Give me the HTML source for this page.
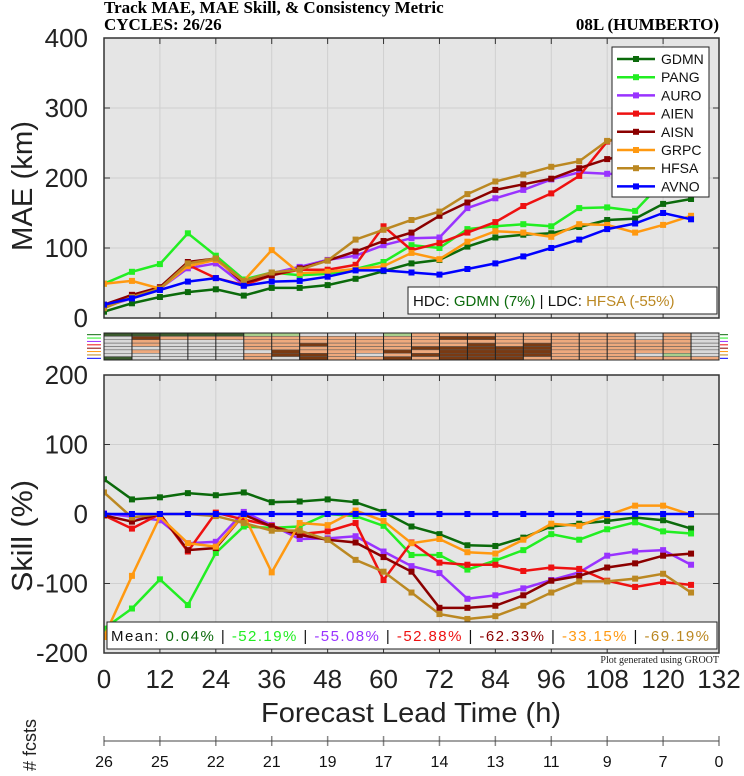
<!DOCTYPE html>
<html><head><meta charset="utf-8"><style>
html,body{margin:0;padding:0;background:#fff;}
svg{display:block;font-family:"Liberation Sans",sans-serif;}
</style></head><body>
<svg id="chart" width="744" height="776" viewBox="0 0 744 776" xmlns="http://www.w3.org/2000/svg">
<text x="104" y="13" font-family="Liberation Serif" font-weight="bold" font-size="17">Track MAE, MAE Skill, &amp; Consistency Metric</text>
<text x="104" y="30" font-family="Liberation Serif" font-weight="bold" font-size="17">CYCLES: 26/26</text>
<text x="719" y="30" text-anchor="end" font-family="Liberation Serif" font-weight="bold" font-size="17">08L (HUMBERTO)</text>
<g id="topG"></g><g id="stripG"></g><g id="botG"></g><g id="axesG"></g>
</svg>
<script>
const hours=[0,6,12,18,24,30,36,42,48,54,60,66,72,78,84,90,96,102,108,114,120,126];
const models=['GDMN','PANG','AURO','AIEN','AISN','GRPC','HFSA','AVNO'];
const colors=['#0b6a0b','#22ee22','#9933ff','#ee1111','#8b0000','#ff9911','#bb8822','#0000ff'];
const maeGDMN=[9,21,30,37,41,32,43,43,47,56,67,78,83,102,115,119,121,130,140,142,163,170];
const maePANG=[49,66,77,121,89,55,65,61,63,70,80,104,100,127,131,134,131,157,158,153,195,215];
const maeAURO=[16,28,42,71,78,47,64,73,83,89,104,114,115,157,171,183,198,208,206,205,200,195];
const maeAIEN=[17,33,42,76,57,47,61,69,69,76,131,97,107,122,137,160,178,203,252,265,270,275];
const maeAISN=[19,33,44,80,85,50,61,71,82,95,110,122,146,165,183,191,199,214,227,235,240,245];
const maeGRPC=[49,53,42,74,83,53,97,64,66,70,74,93,84,109,124,122,116,134,133,122,133,146];
const maeHFSA=[14,30,42,78,85,53,65,69,82,112,126,140,152,177,195,205,216,224,253,260,265,270];
const maeAVNO=[19,28,40,52,57,46,52,53,59,68,68,65,62,70,78,88,100,112,127,135,150,141];
const skGDMN=[50,21,24,30,27,31,17,18,21,17,3,-18,-29,-45,-46,-34,-18,-14,-10,-5,-9,-21];
const skPANG=[-165,-136,-94,-131,-56,-18,-20,-18,0,-3,-17,-59,-59,-80,-67,-52,-29,-37,-22,-12,-25,-28];
const skAURO=[1,-4,-9,-42,-40,3,-16,-36,-35,-32,-54,-75,-85,-122,-117,-107,-95,-84,-60,-54,-52,-73];
const skAIEN=[-2,-21,0,-54,2,-8,-17,-29,-25,-13,-95,-41,-70,-73,-73,-82,-77,-79,-96,-105,-98,-102];
const skAISN=[-2,-11,0,-52,-49,-1,-18,-30,-37,-41,-62,-83,-135,-135,-132,-117,-96,-89,-77,-71,-60,-57];
const skGRPC=[-177,-89,-4,-42,-47,-1,-84,-13,-16,5,-10,-42,-36,-55,-57,-37,-14,-17,-2,12,12,-1];
const skHFSA=[31,-5,0,0,-3,-13,-24,-24,-37,-66,-83,-113,-144,-151,-147,-132,-113,-97,-97,-93,-86,-113];
const skAVNO=[0,0,0,0,0,0,0,0,0,0,0,0,0,0,0,0,0,0,0,0,0,0];
const meanLabels=['0.04%','-52.19%','-55.08%','-52.88%','-62.33%','-33.15%','-69.19%'];
const xTicks=[0,12,24,36,48,60,72,84,96,108,120,132];
const fcstCounts=['26','25','22','21','19','17','14','13','11','9','7','0'];
const maeTicks=[0,100,200,300,400];
const skillTicks=[-200,-100,0,100,200];
const stripRows=['GGGGGggwwwgoooooooowow','wboooooooooobbooooowow','wowwwoooooooooooooooow','wowwwoobooooobobooooow','wwwwwoooooobbbbbooooow','wowwwwbooobobbbbooooow','wwwwwobbowobbbbbooowgw','Gwwwwowboobobbbooooooow'];
const maeSeries=[maeGDMN,maePANG,maeAURO,maeAIEN,maeAISN,maeGRPC,maeHFSA,maeAVNO];
const skSeries=[skGDMN,skPANG,skAURO,skAIEN,skAISN,skGRPC,skHFSA,skAVNO];

const NS='http://www.w3.org/2000/svg';
const X0=104,X1=719;
const xs=t=>X0+t*(X1-X0)/132;
const yTop=v=>318-v*(318-38)/400;
const yBot=v=>514-v*(653-375)/400;
function mk(tag,attrs,parent){const e=document.createElementNS(NS,tag);for(const k in attrs)e.setAttribute(k,attrs[k]);parent.appendChild(e);return e;}

function panel(g,y0,y1,yf,ticks,name){
  const bg=mk('rect',{x:X0,y:y0,width:X1-X0,height:y1-y0,fill:'#e5e5e5'},g);
  
  
  xTicks.forEach(t=>{
    const l=mk('line',{x1:xs(t),x2:xs(t),y1:y0,y2:y1,stroke:'#d0d0d0','stroke-width':1},g);
    
    
    mk('line',{x1:xs(t),x2:xs(t),y1:y0,y2:y0+6,stroke:'#333'},g);
    mk('line',{x1:xs(t),x2:xs(t),y1:y1,y2:y1-6,stroke:'#333'},g);
  });
  ticks.forEach(v=>{
    const l=mk('line',{x1:X0,x2:X1,y1:yf(v),y2:yf(v),stroke:'#d0d0d0'},g);
    
    
    mk('line',{x1:X1,x2:X1-6,y1:yf(v),y2:yf(v),stroke:'#333'},g);
    mk('line',{x1:X0,x2:X0+6,y1:yf(v),y2:yf(v),stroke:'#333'},g);
    const tx=mk('text',{x:88,y:yf(v)+9,'text-anchor':'end','font-size':26,fill:'#222'},g);
    tx.textContent=v;
    
    
  });
}
function series(g,data,yf,color,name,clip){
  const pts=data.map((v,i)=>xs(hours[i])+','+yf(v)).join(' ');
  const pl=mk('polyline',{points:pts,fill:'none',stroke:color,'stroke-width':2.5,'clip-path':clip},g);
  
  
  data.forEach((v,i)=>{
    const r=mk('rect',{x:xs(hours[i])-3,y:yf(v)-3,width:6,height:6,fill:color,'clip-path':clip},g);
    
    
  });
}
const topG=document.getElementById('topG'),botG=document.getElementById('botG'),stripG=document.getElementById('stripG');
const svgRoot=document.getElementById('chart');
const defs=mk('defs',{},svgRoot);
const c1=mk('clipPath',{id:'c1'},defs);mk('rect',{x:X0,y:38,width:X1-X0,height:280},c1);
const c2=mk('clipPath',{id:'c2'},defs);mk('rect',{x:X0,y:375,width:X1-X0,height:278},c2);
panel(topG,38,318,yTop,maeTicks,'mae');
panel(botG,375,653,yBot,skillTicks,'skill');
mk('line',{x1:X0,x2:X1,y1:yBot(0),y2:yBot(0),stroke:'#888','stroke-width':2},botG);
maeSeries.forEach((d,i)=>series(topG,d,yTop,colors[i],'mae-'+models[i].toLowerCase(),'url(#c1)'));
skSeries.forEach((d,i)=>series(botG,d,yBot,colors[i],'skill-'+models[i].toLowerCase(),'url(#c2)'));
[topG,botG].forEach((g,k)=>{const r=mk('rect',{x:X0,y:k?375:38,width:X1-X0,height:k?278:280,fill:'none',stroke:'#333','stroke-width':1.5},g);

});

// legend
const lg=mk('g',{},topG);


mk('rect',{x:612,y:47,width:97,height:150,fill:'#fff',stroke:'#222'},lg);
models.forEach((m,i)=>{
  const y=59+i*18.2;
  const e=mk('g',{},lg);
  
  
  mk('line',{x1:617,x2:655,y1:y,y2:y,stroke:colors[i],'stroke-width':2.5},e);
  mk('rect',{x:633,y:y-3,width:6,height:6,fill:colors[i]},e);
  const t=mk('text',{x:661,y:y+5,'font-size':14,fill:'#111'},e);t.textContent=m;
});
// HDC box
const hb=mk('g',{},topG);


mk('rect',{x:408,y:287,width:309,height:27,fill:'#fff',stroke:'#222'},hb);
const ht=mk('text',{x:413,y:306,'font-size':15,fill:'#111'},hb);
ht.setAttribute('xml:space','preserve');
ht.innerHTML='HDC:  <tspan fill="#0b6a0b">GDMN (7%)</tspan>  | LDC:  <tspan fill="#bb8822">HFSA (-55%)</tspan>';
// mean box
const mb=mk('g',{},botG);


mk('rect',{x:107,y:622,width:610,height:27,fill:'#fff',stroke:'#222'},mb);
const mt=mk('text',{x:111,y:641,'font-size':15,fill:'#111'},mb);
mt.setAttribute('xml:space','preserve');
let s='Mean:  <tspan fill="'+colors[0]+'">'+meanLabels[0]+'</tspan>';
for(let i=1;i<meanLabels.length;i++)s+='   |  <tspan fill="'+colors[i]+'">'+meanLabels[i]+'</tspan>';
mt.innerHTML=s;
mt.setAttribute('textLength','598');
const gr=mk('text',{x:719,y:663,'text-anchor':'end','font-size':10,'font-family':'Liberation Serif',fill:'#222'},botG);
gr.textContent='Plot generated using GROOT';



// consistency strip
const sc={G:'#3b5a2e',g:'#a8cf8c',w:'#d9d9d9',o:'#eea97d',b:'#7a3a12'};
const sy0=333,sy1=360,rh=(sy1-sy0)/8,cw=(X1-X0)/22;
stripRows.forEach((row,r)=>{
  for(let c=0;c<22;c++){
    const ch=row[c]||'w';
    const rc=mk('rect',{x:X0+c*cw,y:sy0+r*rh,width:cw,height:rh,fill:sc[ch]||'#d9d9d9',stroke:'#555','stroke-width':0.5},stripG);
    
    
  }
  mk('line',{x1:87,x2:101,y1:sy0+r*rh+rh/2,y2:sy0+r*rh+rh/2,stroke:colors[r],'stroke-width':1},stripG);
  mk('line',{x1:720,x2:728,y1:sy0+r*rh+rh/2,y2:sy0+r*rh+rh/2,stroke:colors[r],'stroke-width':1},stripG);
});
for(let c=0;c<=22;c++)mk('line',{x1:X0+c*cw,x2:X0+c*cw,y1:sy0,y2:sy1,stroke:'#222','stroke-width':1},stripG);
mk('rect',{x:X0,y:sy0,width:X1-X0,height:sy1-sy0,fill:'none',stroke:'#222'},stripG);

// axes text
const ax=document.getElementById('axesG');
xTicks.forEach((t,i)=>{
  const tx=mk('text',{x:xs(t),y:688,'text-anchor':'middle','font-size':26,fill:'#222'},ax);
  tx.textContent=t;
  
  
  mk('line',{x1:xs(t),x2:xs(t),y1:736,y2:746,stroke:'#888','stroke-width':1.5},ax);
  const f=mk('text',{x:xs(t),y:767,'text-anchor':'middle','font-size':16,fill:'#111'},ax);
  f.textContent=fcstCounts[i];
  
  
});
mk('line',{x1:X0,x2:X1,y1:741,y2:741,stroke:'#444'},ax);
const xt=mk('text',{x:411,y:722,'text-anchor':'middle','font-size':28,fill:'#222',textLength:300,lengthAdjust:'spacingAndGlyphs'},ax);
xt.textContent='Forecast Lead Time (h)';


const y1t=mk('text',{transform:'translate(32,186) rotate(-90)','text-anchor':'middle','font-size':29,fill:'#222',textLength:130,lengthAdjust:'spacingAndGlyphs'},ax);
y1t.textContent='MAE (km)';


const y2t=mk('text',{transform:'translate(32,536) rotate(-90)','text-anchor':'middle','font-size':29,fill:'#222',textLength:112,lengthAdjust:'spacingAndGlyphs'},ax);
y2t.textContent='Skill (%)';


const ft=mk('text',{transform:'translate(36,745) rotate(-90)','text-anchor':'middle','font-size':18,fill:'#222'},ax);
ft.textContent='# fcsts';


</script>
</body></html>
